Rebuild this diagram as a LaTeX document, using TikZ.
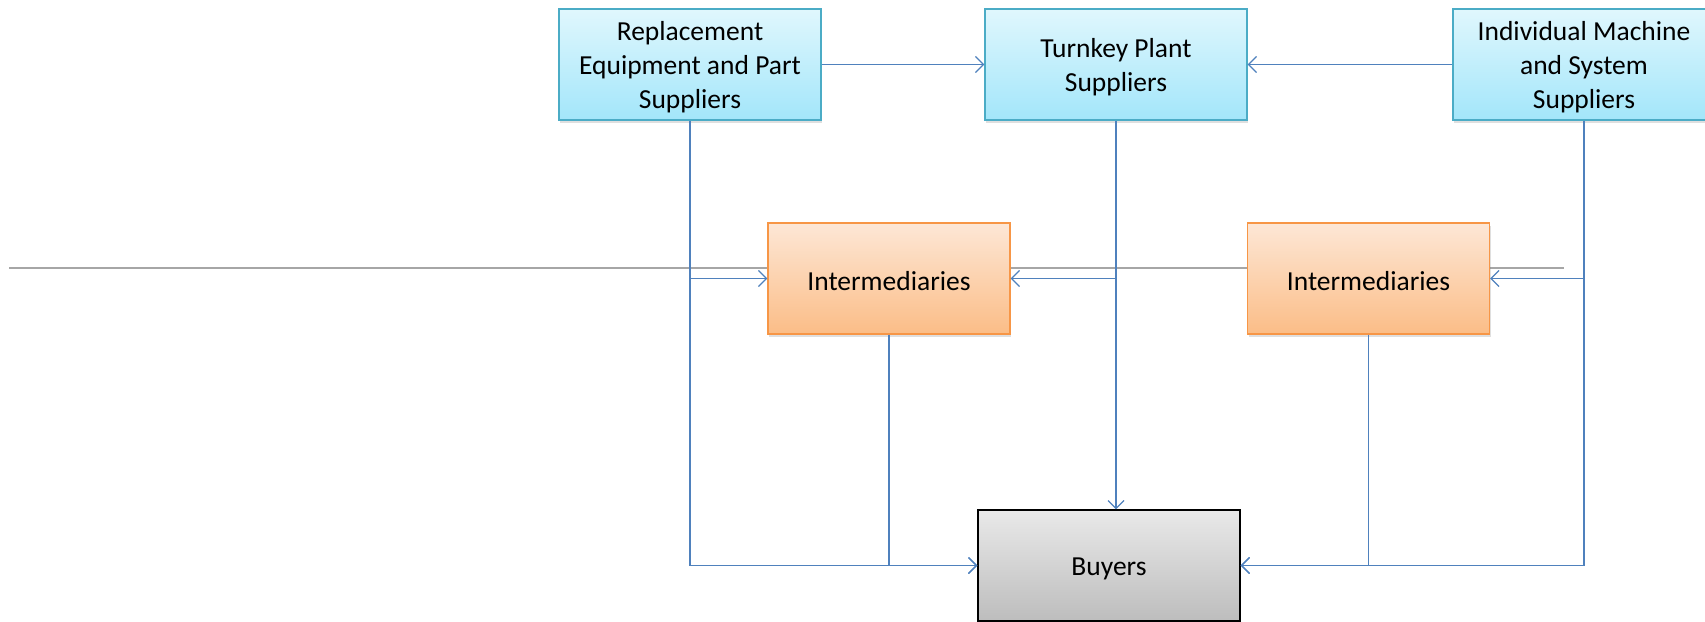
\documentclass[tikz,border=0pt]{standalone}
\usepackage{fontspec}
\setmainfont{Carlito}
\usetikzlibrary{arrows.meta,shadows}
\definecolor{linkblue}{HTML}{4F81BD}
\definecolor{axisgray}{HTML}{A6A6A6}
\definecolor{supborder}{HTML}{4BACC6}
\definecolor{suptop}{HTML}{E0F7FD}
\definecolor{supbot}{HTML}{A3E6FA}
\definecolor{intborder}{HTML}{F79646}
\definecolor{inttop}{HTML}{FDE7D6}
\definecolor{intbot}{HTML}{FBBD87}
\definecolor{buytop}{HTML}{E9E9E9}
\definecolor{buybot}{HTML}{BDBDBD}
\begin{document}
\begin{tikzpicture}[x=1pt,y=-1pt,
  every node/.style={font=\fontsize{27.5}{34}\selectfont, align=center, inner sep=0pt},
  boxbase/.style={draw, line width=1.2pt, minimum width=262pt, minimum height=111pt,
    drop shadow={shadow xshift=1pt, shadow yshift=-3pt, opacity=0.25}},
  txt/.style={label={[yshift=-3pt]center:#1}},
  supplier/.style={boxbase, draw=supborder, top color=suptop, bottom color=supbot},
  middleman/.style={boxbase, draw=intborder, top color=inttop, bottom color=intbot, minimum width=242pt},
  buyer/.style={boxbase, draw=black, top color=buytop, bottom color=buybot},
  link/.style={draw=linkblue, line width=1.3pt, -{Straight Barb[length=8pt,width=16pt,line width=1.3pt]}}
]
\useasboundingbox (0,0) rectangle (1705,621);

% horizontal rule running behind the intermediaries
\coordinate (ruleL) at (9,267.5);
\coordinate (ruleR) at (1564,267.5);
\draw[axisgray, line width=2pt] (ruleL) -- (ruleR);

% top row: suppliers
\node[supplier, txt={Replacement\\Equipment and Part\\Suppliers}] (rep) at (690,64.5) {};
\node[supplier, txt={Turnkey Plant\\Suppliers}] (turn) at (1116,64.5) {};
\node[supplier, txt={Individual Machine\\and System\\Suppliers}] (ind) at (1584,64.5) {};

% middle row: intermediaries
\node[middleman, txt={Intermediaries}] (int1) at (889,278.5) {};
\node[middleman, txt={Intermediaries}] (int2) at (1368.5,278.5) {};

% bottom: buyers
\node[buyer, txt={Buyers}] (buy) at (1109,565.5) {};

% supplier-to-supplier links
\draw[link] (rep.east) -- (turn.west);
\draw[link] (ind.west) -- (turn.east);

% replacement equipment suppliers
\draw[link] (rep.south) |- (buy.west);
\draw[link] (rep.south |- int1.west) -- (int1.west);

% turnkey plant suppliers
\draw[link] (turn.south) -- (turn.south |- buy.north);
\draw[link] (turn.south |- int1.east) -- (int1.east);

% individual machine suppliers
\draw[link] (ind.south) |- (buy.east);
\draw[link] (ind.south |- int2.east) -- (int2.east);

% intermediaries to buyers
\draw[link] (int1.south) |- (buy.west);
\draw[link] (int2.south) |- (buy.east);
\end{tikzpicture}
\end{document}
